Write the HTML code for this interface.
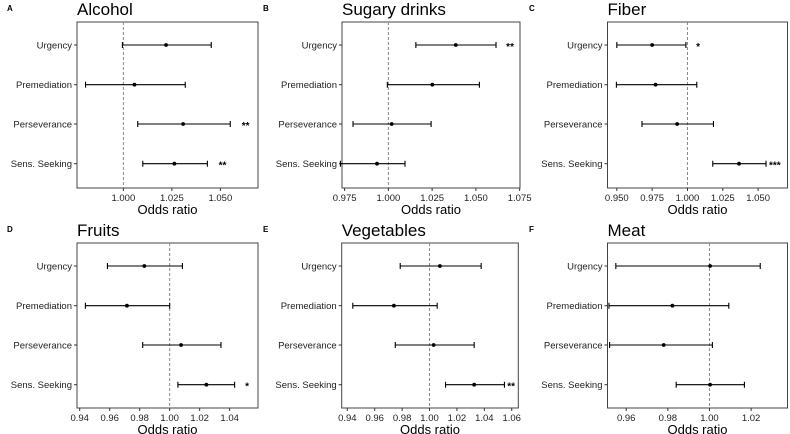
<!DOCTYPE html>
<html><head><meta charset="utf-8"><style>
html,body{margin:0;padding:0;background:#fff;}
svg{display:block;font-family:"Liberation Sans",Arial,sans-serif;}
</style></head><body>
<svg id="fig" width="790" height="434" viewBox="0 0 790 434"></svg>
<script>
const categories = ["Urgency","Premediation","Perseverance","Sens. Seeking"];
const titles = ["Alcohol","Sugary drinks","Fiber","Fruits","Vegetables","Meat"];
const letters = ["A","B","C","D","E","F"];
const estA = [1.022, 1.0057, 1.0308, 1.0263];
const loA  = [0.9995, 0.9805, 1.0074, 1.0100];
const hiA  = [1.0453, 1.0319, 1.0551, 1.0433];
const estB = [1.0385, 1.0251, 1.0019, 0.9935];
const loB  = [1.0157, 0.9994, 0.9798, 0.9726];
const hiB  = [1.0615, 1.0520, 1.0244, 1.0095];
const estC = [0.975, 0.9774, 0.9927, 1.0365];
const loC  = [0.950, 0.9497, 0.9678, 1.0179];
const hiC  = [0.9989, 1.0066, 1.0184, 1.0556];
const estD = [0.9831, 0.9715, 1.0076, 1.0245];
const loD  = [0.9585, 0.9438, 0.9820, 1.0055];
const hiD  = [1.0085, 1.0000, 1.0342, 1.0433];
const estE = [1.0076, 0.9740, 1.0030, 1.0326];
const loE  = [0.9786, 0.9440, 0.9750, 1.0117];
const hiE  = [1.0377, 1.0056, 1.0326, 1.0547];
const estF = [1.0003, 0.9822, 0.9780, 1.0003];
const loF  = [0.9550, 0.9517, 0.9520, 0.9840];
const hiF  = [1.0244, 1.0093, 1.0014, 1.0168];
const starsA = ["","","**","**"];   const starXA = [0,0,1.0610,1.0491];
const starsB = ["**","","",""];     const starXB = [1.0673,0,0,0];
const starsC = ["*","","","***"];   const starXC = [1.0061,0,0,1.0577];
const starsD = ["","","","*"];      const starXD = [0,0,0,1.0503];
const starsE = ["","","","**"];     const starXE = [0,0,0,1.0567];
const starsF = ["","","",""];       const starXF = [0,0,0,0];
const ticksA = [1.000,1.025,1.050]; const tickLabA = ["1.000","1.025","1.050"];
const ticksB = [0.975,1.000,1.025,1.050,1.075]; const tickLabB = ["0.975","1.000","1.025","1.050","1.075"];
const ticksC = [0.950,0.975,1.000,1.025,1.050]; const tickLabC = ["0.950","0.975","1.000","1.025","1.050"];
const ticksD = [0.94,0.96,0.98,1.00,1.02,1.04]; const tickLabD = ["0.94","0.96","0.98","1.00","1.02","1.04"];
const ticksE = [0.94,0.96,0.98,1.00,1.02,1.04,1.06]; const tickLabE = ["0.94","0.96","0.98","1.00","1.02","1.04","1.06"];
const ticksF = [0.96,0.98,1.00,1.02]; const tickLabF = ["0.96","0.98","1.00","1.02"];
const domA = [0.9761,1.0694]; const domB = [0.9735,1.0752]; const domC = [0.9434,1.0708];
const domD = [0.9382,1.0589]; const domE = [0.9359,1.0648]; const domF = [0.9510,1.0375];

const panels = [
 {est:estA,lo:loA,hi:hiA,st:starsA,sx:starXA,t:ticksA,tl:tickLabA,dom:domA,box:[77,22,258,188]},
 {est:estB,lo:loB,hi:hiB,st:starsB,sx:starXB,t:ticksB,tl:tickLabB,dom:domB,box:[342,22,520,188]},
 {est:estC,lo:loC,hi:hiC,st:starsC,sx:starXC,t:ticksC,tl:tickLabC,dom:domC,box:[607.5,22,787.5,188]},
 {est:estD,lo:loD,hi:hiD,st:starsD,sx:starXD,t:ticksD,tl:tickLabD,dom:domD,box:[77,243,258,408]},
 {est:estE,lo:loE,hi:hiE,st:starsE,sx:starXE,t:ticksE,tl:tickLabE,dom:domE,box:[341.7,243,518.3,408]},
 {est:estF,lo:loF,hi:hiF,st:starsF,sx:starXF,t:ticksF,tl:tickLabF,dom:domF,box:[607.5,243,787.5,408]}
];
const NS="http://www.w3.org/2000/svg";
const svg=document.getElementById('fig');
function mk(tag,attrs,parent,text){const e=document.createElementNS(NS,tag);for(const k in attrs)e.setAttribute(k,attrs[k]);if(text!==undefined)e.textContent=text;(parent||svg).appendChild(e);return e;}
const rowOff=[23,62.7,102,141.7];
panels.forEach((p,i)=>{
  const [x0,y0,x1,y1]=p.box;
  const g=mk('g',{});
  
  
  const xs=v=>x0+(v-p.dom[0])/(p.dom[1]-p.dom[0])*(x1-x0);
  const ys=k=>y0+rowOff[k];
  const L=mk('text',{x:(i%3===0?7:(i%3===1?263:529)),y:y0-11,'font-size':8,'font-weight':'bold'},g,letters[i]);
  
  
  const T=mk('text',{x:x0,y:y0-7,'font-size':17},g,titles[i]);
  
  
  const r=mk('rect',{x:x0,y:y0,width:x1-x0,height:y1-y0,fill:'none',stroke:'#444','stroke-width':1},g);
  
  
  const ref=mk('line',{x1:xs(1),x2:xs(1),y1:y0,y2:y1,stroke:'#888','stroke-dasharray':'3,2','stroke-width':1},g);
  
  
  p.t.forEach((v,k)=>{
    const x=xs(v);
    const tk=mk('line',{x1:x,x2:x,y1:y1,y2:y1+3,stroke:'#333'},g);
    
    
    const tt=mk('text',{x:x,y:y1+13,'font-size':9.5,'text-anchor':'middle',fill:'#222'},g,p.tl[k]);
    
    
  });
  const xt=mk('text',{x:(x0+x1)/2,y:y1+26,'font-size':13,'text-anchor':'middle'},g,'Odds ratio');
  
  
  categories.forEach((c,k)=>{
    const y=ys(k);
    const yt=mk('line',{x1:x0-3,x2:x0,y1:y,y2:y,stroke:'#333'},g);
    
    
    const yl=mk('text',{x:x0-5,y:y+3.5,'font-size':9.5,'text-anchor':'end',fill:'#222'},g,c);
    
    
    const a=xs(p.lo[k]),b=xs(p.hi[k]);
    const eb=mk('path',{d:`M${a},${y}H${b}M${a},${y-3}V${y+3}M${b},${y-3}V${y+3}`,stroke:'#000','stroke-width':1.1,fill:'none'},g);
    
    
    const pt=mk('circle',{cx:xs(p.est[k]),cy:y,r:1.9,fill:'#000'},g);
    
    
    if(p.st[k]){
      const s=mk('text',{x:xs(p.sx[k]),y:y+5,'font-size':10,'font-weight':'bold'},g,p.st[k]);
      
      
    }
  });
});
</script>
</body></html>
